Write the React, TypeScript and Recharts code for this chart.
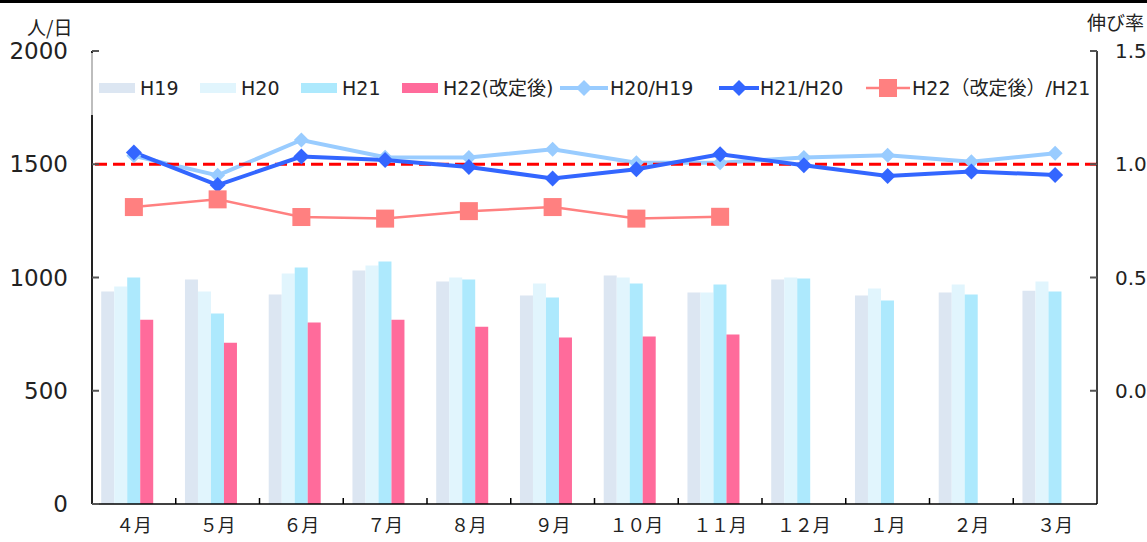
import React from 'react';
import { ComposedChart, Bar, Line, XAxis, YAxis, ReferenceLine } from 'recharts';

const months = ['４月', '５月', '６月', '７月', '８月', '９月', '１０月', '１１月', '１２月', '１月', '２月', '３月'];
const h19 = [938, 991, 925, 1031, 982, 920, 1009, 934, 991, 920, 934, 942];
const h20 = [960, 938, 1018, 1053, 1000, 973, 1000, 934, 1000, 951, 969, 982];
const h21 = [1000, 841, 1044, 1071, 991, 912, 973, 969, 996, 898, 925, 938];
const h22 = [814, 712, 801, 814, 783, 735, 739, 748, null, null, null, null];
const r20_19 = [1.037, 0.951, 1.107, 1.031, 1.03, 1.066, 1.007, 1.007, 1.03, 1.04, 1.011, 1.049];
const r21_20 = [1.052, 0.908, 1.034, 1.019, 0.988, 0.937, 0.978, 1.044, 0.996, 0.948, 0.968, 0.953];
const r22_21 = [0.811, 0.845, 0.767, 0.76, 0.793, 0.811, 0.76, 0.768, null, null, null, null];
const leftTicks = [0, 500, 1000, 1500, 2000];
const rightTicks = [0, 0.5, 1.0, 1.5];

const data = months.map((m, i) => ({
  m,
  h19: h19[i],
  h20: h20[i],
  h21: h21[i],
  h22: h22[i],
  dummy: null,
  r1: r20_19[i],
  r2: r21_20[i],
  r3: r22_21[i],
}));

const C = {
  h19: '#dce6f2',
  h20: '#e1f5fd',
  h21: '#ade9fd',
  h22: '#ff6b9b',
  light: '#99ccff',
  dark: '#3366ff',
  pink: '#ff8080',
  red: '#ff0000',
  text: '#222222',
};

const LATIN = '"DejaVu Sans", "Noto Sans CJK JP", sans-serif';
const CJK = '"Noto Sans CJK JP", "DejaVu Sans", sans-serif';

const CHART_W = 1147;
const LEFT_W = 92;
const RIGHT_W = 50;
const BAND = (CHART_W - LEFT_W - RIGHT_W) / months.length;
const X_TICK_MARGIN = 15;

const XTick = (props: any) => {
  const { x, y, payload, index } = props;
  const ay = y - X_TICK_MARGIN;
  return (
    <g>
      {index > 0 && (
        <line x1={x - BAND / 2} x2={x - BAND / 2} y1={ay} y2={ay - 6} stroke="#000" strokeWidth={1.5} />
      )}
      <text x={x} y={y} dy="0.71em" textAnchor="middle" fontSize={18} fill={C.text} fontFamily={CJK}>
        {payload.value}
      </text>
    </g>
  );
};

const diamondDot = (color: string, r: number) => (props: any) => {
  const { cx, cy, index } = props;
  if (cx == null || cy == null || isNaN(cy)) return <g key={`d${index}`} />;
  return (
    <path
      key={`d${index}`}
      d={`M${cx},${cy - r}L${cx + r},${cy}L${cx},${cy + r}L${cx - r},${cy}Z`}
      fill={color}
    />
  );
};

const squareDot = (color: string, s: number) => (props: any) => {
  const { cx, cy, index } = props;
  if (cx == null || cy == null || isNaN(cy)) return <g key={`s${index}`} />;
  return <rect key={`s${index}`} x={cx - s / 2} y={cy - s / 2} width={s} height={s} fill={color} />;
};

const legendText: React.CSSProperties = {
  position: 'absolute',
  top: 76,
  fontFamily: LATIN,
  fontSize: 19,
  color: C.text,
  lineHeight: '24px',
  whiteSpace: 'nowrap',
};

function LegendOverlay() {
  const rects = [
    { x: 99, color: C.h19, label: 'H19', tx: 140 },
    { x: 200, color: C.h20, label: 'H20', tx: 241 },
    { x: 301, color: C.h21, label: 'H21', tx: 342 },
    { x: 402, color: C.h22, label: 'H22(改定後)', tx: 443 },
  ];
  return (
    <div
      style={{
        position: 'absolute',
        left: 90,
        top: 53,
        width: 1005,
        height: 62,
        background: 'rgba(255,255,255,0.7)',
      }}
    >
      <div style={{ position: 'absolute', left: -90, top: -53, width: 1147, height: 200 }}>
        {rects.map((r) => (
          <React.Fragment key={r.label}>
            <div style={{ position: 'absolute', left: r.x, top: 83, width: 36, height: 10, background: r.color }} />
            <div style={{ ...legendText, left: r.tx }}>{r.label}</div>
          </React.Fragment>
        ))}
        <svg style={{ position: 'absolute', left: 0, top: 0 }} width={1147} height={120}>
          <line x1={560} x2={608} y1={88} y2={88} stroke={C.light} strokeWidth={4} />
          <path d="M584,80L592,88L584,96L576,88Z" fill={C.light} />
          <line x1={719} x2={759} y1={88} y2={88} stroke={C.dark} strokeWidth={4} />
          <path d="M739,80L747,88L739,96L731,88Z" fill={C.dark} />
          <line x1={866} x2={910} y1={88} y2={88} stroke={C.pink} strokeWidth={2.5} />
          <rect x={879} y={79} width={18} height={18} fill={C.pink} />
        </svg>
        <div style={{ ...legendText, left: 610 }}>H20/H19</div>
        <div style={{ ...legendText, left: 760 }}>H21/H20</div>
        <div style={{ ...legendText, left: 912 }}>H22（改定後）/H21</div>
      </div>
    </div>
  );
}

export default function App() {
  return (
    <div style={{ position: 'absolute', left: 0, top: 0, width: 1147, height: 542, background: '#fff', overflow: 'hidden' }}>
      <div style={{ position: 'absolute', left: 0, top: 0, width: 1147, height: 3, background: '#000' }} />
      <ComposedChart
        width={CHART_W}
        height={542}
        data={data}
        margin={{ top: 51, right: 0, bottom: 0, left: 0 }}
        barCategoryGap="11%"
        barGap={0}
      >
        <XAxis
          xAxisId="main"
          dataKey="m"
          height={38}
          tickLine={false}
          tickSize={0}
          axisLine={{ stroke: '#000', strokeWidth: 1.5 }}
          tickMargin={X_TICK_MARGIN}
          tick={<XTick />}
          interval={0}
        />
        <XAxis
          xAxisId="top"
          dataKey="m"
          orientation="top"
          height={0}
          tick={false}
          tickLine={false}
          axisLine={{ stroke: '#000', strokeWidth: 1.5 }}
        />
        <YAxis
          yAxisId="left"
          orientation="left"
          width={LEFT_W}
          domain={[0, 2000]}
          ticks={leftTicks}
          tickSize={-7}
          tickMargin={31}
          axisLine={{ stroke: '#222', strokeWidth: 2 }}
          tickLine={{ stroke: '#555', strokeWidth: 2 }}
          tick={{ fontSize: 23, fill: C.text, fontFamily: LATIN }}
        />
        <YAxis
          yAxisId="right"
          orientation="right"
          width={RIGHT_W}
          domain={[-0.5, 1.5]}
          ticks={rightTicks}
          tickFormatter={(v: number) => v.toFixed(1)}
          tickSize={-7}
          tickMargin={25}
          axisLine={{ stroke: '#000', strokeWidth: 1.5 }}
          tickLine={{ stroke: '#555', strokeWidth: 2 }}
          tick={{ fontSize: 20, fill: C.text, fontFamily: LATIN }}
        />
        <Bar xAxisId="main" yAxisId="left" dataKey="h19" fill={C.h19} isAnimationActive={false} />
        <Bar xAxisId="main" yAxisId="left" dataKey="h20" fill={C.h20} isAnimationActive={false} />
        <Bar xAxisId="main" yAxisId="left" dataKey="h21" fill={C.h21} isAnimationActive={false} />
        <Bar xAxisId="main" yAxisId="left" dataKey="h22" fill={C.h22} isAnimationActive={false} />
        <Bar xAxisId="main" yAxisId="left" dataKey="dummy" fill="none" legendType="none" isAnimationActive={false} />
        <Line
          xAxisId="main"
          yAxisId="right"
          dataKey="r1"
          stroke={C.light}
          strokeWidth={4}
          dot={diamondDot(C.light, 7.5)}
          activeDot={false}
          isAnimationActive={false}
        />
        <ReferenceLine
          xAxisId="main"
          yAxisId="right"
          y={1}
          stroke={C.red}
          strokeWidth={3}
          strokeDasharray="12 6"
        />
        <Line
          xAxisId="main"
          yAxisId="right"
          dataKey="r2"
          stroke={C.dark}
          strokeWidth={4}
          dot={diamondDot(C.dark, 8)}
          activeDot={false}
          isAnimationActive={false}
        />
        <Line
          xAxisId="main"
          yAxisId="right"
          dataKey="r3"
          stroke={C.pink}
          strokeWidth={2.5}
          dot={squareDot(C.pink, 18)}
          activeDot={false}
          isAnimationActive={false}
        />
      </ComposedChart>
      <LegendOverlay />
      <div style={{ position: 'absolute', left: 27, top: 14, fontFamily: CJK, fontSize: 19, color: C.text, lineHeight: '26px' }}>
        人/日
      </div>
      <div style={{ position: 'absolute', left: 1087, top: 9, fontFamily: CJK, fontSize: 19, color: C.text, lineHeight: '26px', whiteSpace: 'nowrap' }}>
        伸び率
      </div>
    </div>
  );
}
